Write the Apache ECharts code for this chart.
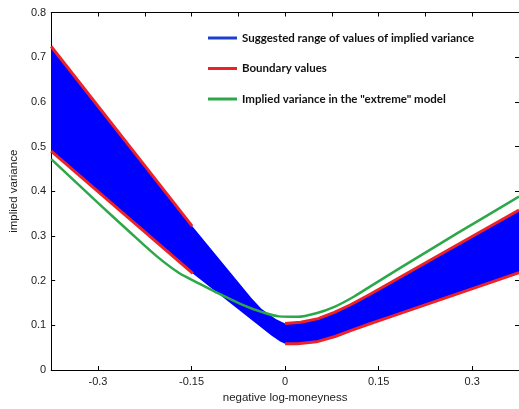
<!DOCTYPE html>
<html>
<head>
<meta charset="utf-8">
<script src="https://cdn.jsdelivr.net/npm/echarts@6/dist/echarts.min.js"></script>
<style>
  html, body { margin: 0; padding: 0; background: #fff; }
  #chart { width: 519px; height: 409px; }
</style>
</head>
<body>
<div id="chart"></div>
<script>
// tick labels shown on the bottom axis
const xTicks = [-0.3, -0.15, 0, 0.15, 0.3];

// edges of the blue band, [moneyness, variance]
const upperLeft = [[-0.375, 0.724], [-0.149, 0.322]];
const upperMid = [[-0.054, 0.161], [-0.038, 0.137], [-0.015, 0.114]];
const upperRight = [[0, 0.104], [0.025, 0.107], [0.053, 0.115], [0.079, 0.129], [0.105, 0.146], [0.137, 0.17], [0.248, 0.258], [0.375, 0.358]];
const lowerLeft = [[-0.375, 0.49], [-0.148, 0.216]];
const lowerMid = [[-0.022, 0.077], [-0.008, 0.064]];
const lowerRight = [[0, 0.059], [0.02, 0.059], [0.05, 0.063], [0.08, 0.075], [0.105, 0.088], [0.137, 0.104], [0.173, 0.121], [0.375, 0.218]];

// "extreme" model curve
const extreme = [[-0.375, 0.472], [-0.3, 0.374], [-0.25, 0.31], [-0.207, 0.256], [-0.17, 0.217], [-0.144, 0.198], [-0.112, 0.175], [-0.07, 0.147], [-0.038, 0.13], [-0.01, 0.12], [0.02, 0.119], [0.05, 0.127], [0.08, 0.142], [0.11, 0.164], [0.14, 0.19], [0.184, 0.228], [0.25, 0.284], [0.3, 0.326], [0.375, 0.388]];

const BLUE = '#0000ff', RED = '#ec2227', GREEN = '#2ca84a';
const NAME_BAND = 'Suggested range of values of implied variance';
const NAME_BOUND = 'Boundary values';
const NAME_EXT = 'Implied variance in the "extreme" model';

const upperAll = upperLeft.concat(upperMid, upperRight);
const lowerAll = lowerLeft.concat(lowerMid, lowerRight);

function redLine(data) {
  return {
    name: NAME_BOUND, type: 'line', data: data, symbol: 'none', z: 3,
    itemStyle: { color: RED }, lineStyle: { color: RED, width: 3 }
  };
}

const chart = echarts.init(document.getElementById('chart'));
const option = {
  animation: false,
  backgroundColor: '#fff',
  grid: { left: 47.5, right: -1, top: 12.5, bottom: 34 },
  legend: {
    orient: 'vertical',
    left: 203, top: 27,
    icon: 'rect', itemWidth: 29, itemHeight: 3, itemGap: 18.5,
    textStyle: { fontFamily: 'Lato', fontWeight: 'bold', fontSize: 11.5, color: '#111' },
    data: [
      { name: NAME_BAND, itemStyle: { color: '#1c3fd0' } },
      { name: NAME_BOUND, itemStyle: { color: RED } },
      { name: NAME_EXT, itemStyle: { color: GREEN } }
    ]
  },
  xAxis: [{
    type: 'value', min: -0.375, max: 0.375, position: 'bottom',
    name: 'negative log-moneyness', nameLocation: 'middle', nameGap: 22,
    nameTextStyle: { fontFamily: 'Liberation Sans', fontSize: 11.5, color: '#222' },
    splitLine: { show: false },
    axisLine: { onZero: false, lineStyle: { color: '#000' } },
    axisTick: { inside: true, length: 4, customValues: xTicks, lineStyle: { color: '#000' } },
    axisLabel: { customValues: xTicks, fontFamily: 'Liberation Sans', fontSize: 11, color: '#222', margin: 6 }
  }, {
    type: 'value', min: -0.375, max: 0.375, interval: 0.075, position: 'top',
    splitLine: { show: false },
    axisLine: { onZero: false, lineStyle: { color: '#000' } },
    axisTick: { inside: true, length: 4, lineStyle: { color: '#000' } },
    axisLabel: { show: false }
  }],
  yAxis: [{
    type: 'value', min: 0, max: 0.8, interval: 0.1, position: 'left',
    name: 'implied variance', nameLocation: 'middle', nameGap: 30,
    nameTextStyle: { fontFamily: 'Liberation Sans', fontSize: 11.5, color: '#222' },
    splitLine: { show: false },
    axisLine: { show: true, onZero: false, lineStyle: { color: '#000' } },
    axisTick: { show: true, inside: true, length: 4, lineStyle: { color: '#000' } },
    axisLabel: { fontFamily: 'Liberation Sans', fontSize: 11, color: '#222', margin: 5 }
  }, {
    type: 'value', min: 0, max: 0.8, interval: 0.1, position: 'right',
    splitLine: { show: false },
    axisLine: { show: true, onZero: false, lineStyle: { color: '#000' } },
    axisTick: { show: true, inside: true, length: 4, lineStyle: { color: '#000' } },
    axisLabel: { show: false }
  }],
  series: [
    {
      name: NAME_BAND, type: 'custom', z: 1,
      itemStyle: { color: BLUE },
      data: [[0, 0]],
      renderItem: function (params, api) {
        const pts = upperAll.map(p => api.coord(p))
          .concat(lowerAll.slice().reverse().map(p => api.coord(p)));
        return { type: 'polygon', shape: { points: pts }, style: { fill: BLUE } };
      }
    },
    redLine(upperLeft),
    redLine(lowerLeft),
    redLine(upperRight),
    redLine(lowerRight),
    {
      name: NAME_EXT, type: 'line', data: extreme, symbol: 'none', smooth: 0.3, z: 4,
      itemStyle: { color: GREEN }, lineStyle: { color: GREEN, width: 2.5 }
    }
  ]
};
chart.setOption(option);
</script>
</body>
</html>
